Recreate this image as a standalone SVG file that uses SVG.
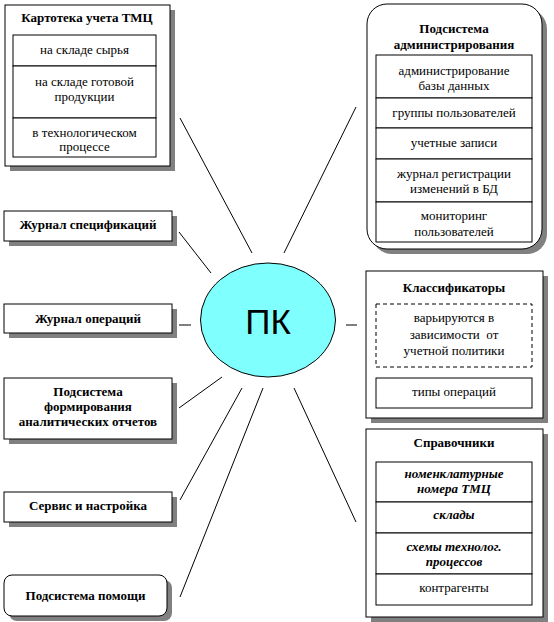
<svg xmlns="http://www.w3.org/2000/svg" width="554" height="622" viewBox="0 0 554 622" font-family="'Liberation Serif', 'DejaVu Serif', serif">
<style>
.box{fill:#fff;stroke:#000;stroke-width:1}
.sh{fill:#808080}
.cell{fill:#fff;stroke:#000;stroke-width:1}
.dash{fill:#fff;stroke:#000;stroke-width:1;stroke-dasharray:4,3}
text{font-family:'Liberation Serif','DejaVu Serif',serif;font-size:13px;text-anchor:middle;fill:#000}
.b{font-weight:bold}
.bi{font-weight:bold;font-style:italic}
.pk{font-family:'Liberation Sans',Arial,sans-serif;font-size:35px}
.con line{stroke:#000;stroke-width:1}
</style>
<rect width="554" height="622" fill="#fff"/>
<g class="con" id="connectors">
<line x1="180" y1="118" x2="252" y2="253"/>
<line x1="356" y1="107" x2="284" y2="253"/>
<line x1="179" y1="232" x2="211" y2="273"/>
<line x1="179" y1="325" x2="191" y2="325"/>
<line x1="346" y1="325" x2="357" y2="325"/>
<line x1="179" y1="408" x2="222" y2="377"/>
<line x1="180" y1="500" x2="242" y2="388"/>
<line x1="180" y1="597" x2="263" y2="388"/>
<line x1="294" y1="388" x2="356" y2="522"/>
</g>
<g id="pk">
<ellipse cx="268" cy="320" rx="67.5" ry="57" fill="#80FFFF" stroke="#000" stroke-width="1"/>
<text class="pk" x="268" y="334">ПК</text>
</g>
<g id="kartoteka">
<rect class="sh" x="10" y="10" width="165" height="161"/>
<rect class="box" x="5" y="5" width="165" height="161"/>
<text class="b" x="87" y="22">Картотека учета ТМЦ</text>
<rect class="cell" x="13" y="35" width="143" height="31"/>
<rect class="cell" x="13" y="66" width="143" height="52"/>
<rect class="cell" x="13" y="118" width="143" height="39"/>
<text x="84.5" y="54">на складе сырья</text>
<text x="84.5" y="86">на складе готовой</text>
<text x="84.5" y="101">продукции</text>
<text x="84.5" y="137">в технологическом</text>
<text x="84.5" y="151">процессе</text>
</g>
<g id="admin">
<rect class="sh" x="372" y="9" width="175" height="245" rx="20"/>
<rect class="box" x="367" y="4" width="175" height="245" rx="20"/>
<text class="b" x="454" y="33">Подсистема</text>
<text class="b" x="454" y="49">администрирования</text>
<rect class="cell" x="376" y="55" width="156" height="43"/>
<rect class="cell" x="376" y="98" width="156" height="30"/>
<rect class="cell" x="376" y="128" width="156" height="31"/>
<rect class="cell" x="376" y="159" width="156" height="43"/>
<rect class="cell" x="376" y="202" width="156" height="40"/>
<text x="454" y="75">администрирование</text>
<text x="454" y="90">базы данных</text>
<text x="454" y="117">группы пользователей</text>
<text x="454" y="147">учетные записи</text>
<text x="454" y="178">журнал регистрации</text>
<text x="454" y="193">изменений в БД</text>
<text x="454" y="220">мониторинг</text>
<text x="454" y="236">пользователей</text>
</g>
<g id="zhurnal-spec">
<rect class="sh" x="9" y="216" width="168" height="30"/>
<rect class="box" x="4" y="211" width="168" height="30"/>
<text class="b" x="88" y="229">Журнал спецификаций</text>
</g>
<g id="zhurnal-oper">
<rect class="sh" x="9" y="309" width="168" height="29"/>
<rect class="box" x="4" y="304" width="168" height="29"/>
<text class="b" x="88" y="323">Журнал операций</text>
</g>
<g id="analytics">
<rect class="sh" x="9" y="383" width="168" height="61"/>
<rect class="box" x="4" y="378" width="168" height="61"/>
<text class="b" x="88" y="396">Подсистема</text>
<text class="b" x="88" y="411">формирования</text>
<text class="b" x="88" y="426">аналитических отчетов</text>
</g>
<g id="service">
<rect class="sh" x="9" y="497" width="168" height="30"/>
<rect class="box" x="4" y="492" width="168" height="30"/>
<text class="b" x="88" y="510">Сервис и настройка</text>
</g>
<g id="help">
<rect class="sh" x="9" y="580" width="163" height="41" rx="8"/>
<rect class="box" x="4" y="575" width="163" height="41" rx="8"/>
<text class="b" x="85.5" y="600">Подсистема помощи</text>
</g>
<g id="classif">
<rect class="sh" x="371" y="276" width="177" height="147"/>
<rect class="box" x="366" y="271" width="177" height="147"/>
<text class="b" x="454" y="292">Классификаторы</text>
<rect class="dash" x="376" y="304" width="156" height="63"/>
<text x="454" y="322">варьируются в</text>
<text x="454" y="339" xml:space="preserve">зависимости  от</text>
<text x="454" y="355">учетной политики</text>
<rect class="cell" x="376" y="378" width="156" height="30"/>
<text x="454" y="396">типы операций</text>
</g>
<g id="spravochniki">
<rect class="sh" x="371" y="434" width="177" height="188"/>
<rect class="box" x="366" y="429" width="177" height="188"/>
<text class="b" x="454" y="447">Справочники</text>
<rect class="cell" x="376" y="462" width="156" height="40"/>
<rect class="cell" x="376" y="502" width="156" height="31"/>
<rect class="cell" x="376" y="533" width="156" height="41"/>
<rect class="cell" x="376" y="574" width="156" height="31"/>
<text class="bi" x="454" y="478">номенклатурные</text>
<text class="bi" x="454" y="493">номера ТМЦ</text>
<text class="bi" x="454" y="519">склады</text>
<text class="bi" x="454" y="551">схемы технолог.</text>
<text class="bi" x="454" y="566">процессов</text>
<text x="454" y="592">контрагенты</text>
</g>
</svg>
